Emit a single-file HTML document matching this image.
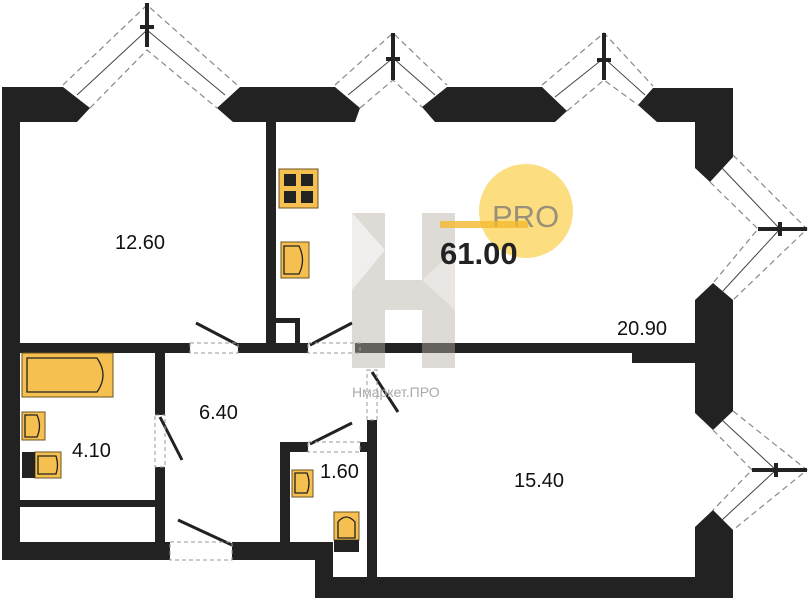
<!DOCTYPE html>
<html><head><meta charset="utf-8"><style>html,body{margin:0;padding:0;background:#fff}svg{display:block}</style></head>
<body>
<svg width="809" height="600" viewBox="0 0 809 600" xmlns="http://www.w3.org/2000/svg" font-family="Liberation Sans, sans-serif">
<g fill="#222">
<polygon points="2,87 63,87 90,108 77,122 20,122 20,542 2,542"/>
<polygon points="240,87 335,87 360,108 355,122 233,122 217,108"/>
<polygon points="447,87 542,87 567,111 555,122 435,122 422,107"/>
<polygon points="653,88 733,88 733,157 710,182 695,168 695,122 657,122 638,105"/>
<polygon points="695,300 713,283 733,300 733,411 713,430 695,413"/>
<polygon points="695,527 713,510 733,530 733,598 315,598 315,560 333,560 333,577 695,577"/>
<rect x="2" y="542" width="168" height="18"/>
<rect x="232" y="542" width="101" height="18"/>
<rect x="315" y="542" width="18" height="56"/>
<rect x="333" y="577" width="44" height="4"/>
<rect x="266" y="122" width="10" height="223"/>
<rect x="20" y="343" width="170" height="10"/>
<rect x="238" y="343" width="70" height="10"/>
<rect x="267" y="318" width="33" height="5"/>
<rect x="295" y="318" width="5" height="27"/>
<rect x="385" y="343" width="310" height="10"/>
<rect x="632" y="343" width="63" height="20"/>
<rect x="355" y="343" width="30" height="10"/>
<rect x="367" y="420" width="10" height="157"/>
<rect x="155" y="353" width="10" height="62"/>
<rect x="155" y="467" width="10" height="75"/>
<rect x="20" y="500" width="135" height="7"/>
<rect x="280" y="442" width="10" height="100"/>
<rect x="280" y="442" width="28" height="10"/>
<rect x="360" y="442" width="7" height="10"/>
</g>
<g fill="none" stroke="#888" stroke-width="1.2" stroke-dasharray="6,4">
<polyline points="63,85 147,5 237,85"/><polyline points="90,108 147,50 217,108"/>
<polyline points="335,85 393,33 447,85"/><polyline points="360,108 393,80 422,107"/>
<polyline points="542,85 604,33 653,86"/><polyline points="567,111 604,80 638,105"/>
<polyline points="733,155 807,229 733,300"/><polyline points="710,182 758,229 713,283"/>
<polyline points="733,411 807,470 733,530"/><polyline points="713,430 752,470 713,510"/>
</g>
<g fill="none" stroke="#444" stroke-width="1">
<polyline points="77,95 147,30 225,95"/><polyline points="348,95 393,58 435,95"/>
<polyline points="555,97 604,58 645,95"/><polyline points="722,168 780,229 722,292"/>
<polyline points="722,420 776,470 722,520"/>
</g>
<g stroke="#222" stroke-width="4">
<line x1="147" y1="3" x2="147" y2="47"/><line x1="140" y1="27" x2="154" y2="27"/>
<line x1="393" y1="33" x2="393" y2="80"/><line x1="386" y1="59" x2="400" y2="59"/>
<line x1="604" y1="33" x2="604" y2="80"/><line x1="597" y1="60" x2="611" y2="60"/>
<line x1="758" y1="229" x2="807" y2="229"/><line x1="780" y1="222" x2="780" y2="236"/>
<line x1="752" y1="470" x2="807" y2="470"/><line x1="776" y1="463" x2="776" y2="477"/>
</g>
<g stroke="#222" stroke-width="3">
<line x1="238" y1="345" x2="196" y2="323"/><line x1="310" y1="345" x2="352" y2="323"/>
<line x1="372" y1="372" x2="398" y2="412"/><line x1="160" y1="417" x2="182" y2="460"/>
<line x1="310" y1="444" x2="352" y2="423"/><line x1="232" y1="545" x2="178" y2="520"/>
</g>
<g fill="none" stroke="#999" stroke-width="1" stroke-dasharray="4,3">
<rect x="190" y="343" width="48" height="10"/><rect x="308" y="343" width="52" height="10"/>
<rect x="367" y="370" width="10" height="50"/><rect x="155" y="415" width="10" height="52"/>
<rect x="308" y="442" width="52" height="10"/><rect x="170" y="542" width="62" height="18"/>
</g>
<g fill="#f5c04f" stroke="#6b5420" stroke-width="1">
<rect x="279" y="169" width="39" height="39"/>
<rect x="281" y="242" width="28" height="36"/>
<rect x="22" y="353" width="91" height="44"/>
<rect x="22" y="412" width="23" height="28"/>
<rect x="35" y="452" width="26" height="26"/>
<rect x="292" y="470" width="21" height="27"/>
<rect x="334" y="512" width="25" height="28"/>
</g>
<g fill="#222"><rect x="284" y="174" width="12" height="12"/><rect x="301" y="174" width="12" height="12"/><rect x="284" y="191" width="12" height="12"/><rect x="301" y="191" width="12" height="12"/>
<rect x="22" y="452" width="13" height="26"/><rect x="334" y="540" width="25" height="12"/></g>
<g fill="none" stroke="#222" stroke-width="1.3">
<path d="M284,246 h15 q7,14 0,28 h-15 z"/><path d="M27,358 h70 q12,17 0,34 h-70 z"/>
<path d="M25,415 h12 q5,11 0,22 h-12 z"/><path d="M38,456 h18 q3,9 0,18 h-18 z"/>
<path d="M295,473 h12 q4,10 0,20 h-12 z"/><path d="M338,538 v-16 q8,-10 17,0 v16 z"/>
</g>
<g opacity="0.45">
<polygon points="352,213 385,213 385,280 422,280 422,213 455,213 455,368 422,368 422,310 385,310 385,368 352,368" fill="#b8b0a8"/>
<polygon points="352,213 385,250 352,290" fill="#e0dcd8"/>
<polygon points="422,280 455,250 455,310" fill="#d0cac4"/>
</g>
<circle cx="526" cy="211" r="47" fill="#fbd86a" opacity="0.85"/>
<text x="492" y="227" font-size="31" fill="#9a907a">PRO</text>
<rect x="440" y="221" width="88" height="7" fill="#f2b92e" opacity="0.8"/>
<text x="440" y="264" font-size="31" font-weight="bold" fill="#222">61.00</text>
<text x="352" y="397" font-size="14" fill="#aaa">Нмаркет.ПРО</text>
<g font-size="20" fill="#111">
<text x="115" y="249">12.60</text>
<text x="617" y="335">20.90</text>
<text x="199" y="419">6.40</text>
<text x="72" y="457">4.10</text>
<text x="320" y="478">1.60</text>
<text x="514" y="487">15.40</text>
</g>
</svg>
</body></html>
